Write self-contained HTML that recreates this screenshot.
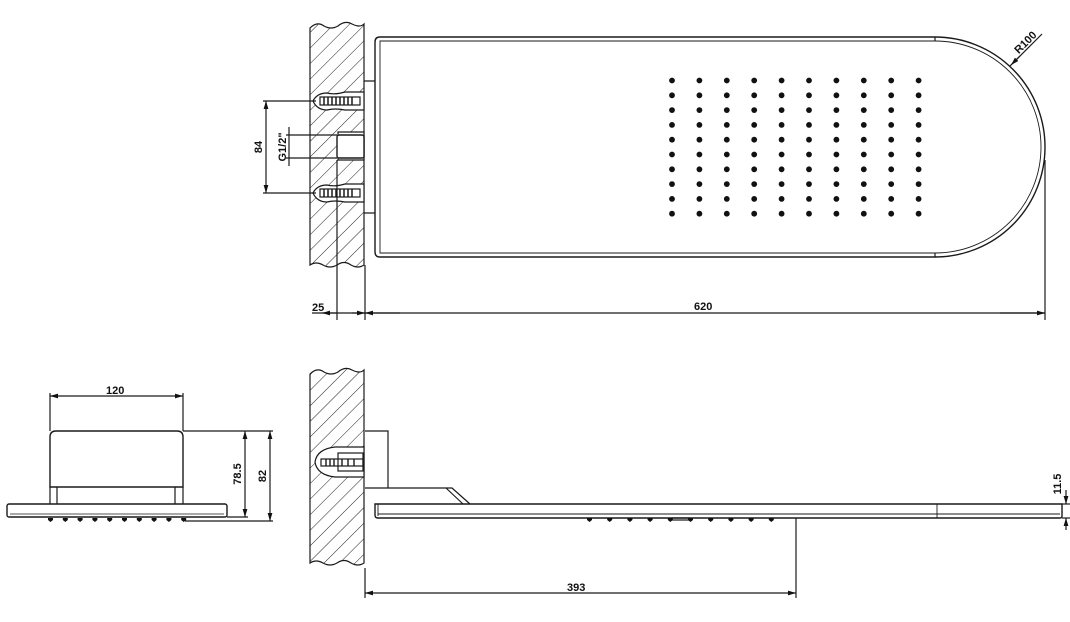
<!DOCTYPE html>
<html><head><meta charset="utf-8"><style>
html,body{margin:0;padding:0;background:#fff;}
svg{display:block}
text{font-family:"Liberation Sans",sans-serif;font-weight:bold;font-size:11px;fill:#111}
</style></head><body>
<svg width="1070" height="622" viewBox="0 0 1070 622" xmlns="http://www.w3.org/2000/svg">
<defs>
<pattern id="h" width="11" height="11" patternUnits="userSpaceOnUse" patternTransform="rotate(45)">
<line x1="0" y1="0" x2="0" y2="11" stroke="#222" stroke-width="1"/>
</pattern>
<marker id="a" viewBox="0 0 10 6" refX="10" refY="3" markerWidth="8" markerHeight="5" orient="auto-start-reverse" markerUnits="userSpaceOnUse">
<path d="M0,0 L10,3 L0,6 Z" fill="#111"/></marker>
</defs>
<g stroke="#1a1a1a" stroke-width="1.2" fill="none">
<!-- TOP VIEW wall -->
<path d="M310,28 q7,-7 14,-2 q7,4 14,0 q7,-6 14,-2 q8,4 12,0 L364,265 q-6,4 -13,0 q-7,-5 -14,0 q-7,4 -14,0 q-7,-4 -13,0 Z" fill="url(#h)"/>
<path d="M313,101 q4,-8 14,-8 q8,2 18,-1 L364,92 L364,110 L345,110 q-10,-2 -18,0 q-10,0 -14,-9Z" fill="#fff"/>
<rect x="320" y="97" width="40" height="8" fill="#fff"/>
<path d="M324,97v8M328,97v8M332,97v8M336,97v8M340,97v8M344,97v8M348,97v8M352,97v8" stroke-width="1.5"/>
<path d="M313,193 q4,-8 14,-8 q8,2 18,-1 L364,184 L364,202 L345,202 q-10,-2 -18,0 q-10,0 -14,-9Z" fill="#fff"/>
<rect x="320" y="189" width="40" height="8" fill="#fff"/>
<path d="M324,189v8M328,189v8M332,189v8M336,189v8M340,189v8M344,189v8M348,189v8M352,189v8" stroke-width="1.5"/>
<path d="M338,132 L364,132 L364,160 L338,160 Z" fill="#fff"/>
<rect x="337" y="135" width="27" height="23" rx="2" fill="#fff" stroke-width="1.4"/>
<path d="M364,81 H375 M364,213 H375"/>
<path d="M935,37 H380 q-5,0 -5,5 V252 q0,5 5,5 H935 A110,110 0 0 0 935,37 Z" stroke-width="1.4"/>
<path d="M935,41 H380 V253 H935 A106,106 0 0 0 935,41" stroke-width="0.9"/>
<line x1="935" y1="37" x2="935" y2="41"/><line x1="935" y1="253" x2="935" y2="257"/>
<!-- dims top -->
<line x1="337" y1="160" x2="337" y2="320"/>
<line x1="365" y1="265" x2="365" y2="320"/>
<line x1="1045" y1="160" x2="1045" y2="320"/>
<line x1="312" y1="313" x2="1045" y2="313"/>
<line x1="337" y1="313" x2="322" y2="313" marker-end="url(#a)"/>
<line x1="365" y1="313" x2="352" y2="313" marker-start="url(#a)"/>
<line x1="400" y1="313" x2="365" y2="313" marker-end="url(#a)"/>
<line x1="1000" y1="313" x2="1045" y2="313" marker-end="url(#a)"/>
<line x1="263" y1="101" x2="316" y2="101"/>
<line x1="263" y1="193" x2="316" y2="193"/>
<line x1="266" y1="101" x2="266" y2="193" marker-start="url(#a)" marker-end="url(#a)"/>
<line x1="286" y1="135" x2="337" y2="135"/>
<line x1="286" y1="158" x2="337" y2="158"/>
<line x1="289" y1="127" x2="289" y2="166"/>
<line x1="1010" y1="66" x2="1042" y2="34"/>
<line x1="1020" y1="56" x2="1011" y2="65" marker-end="url(#a)"/>

<!-- SIDE VIEW left -->
<path d="M50,487 V437 q0,-6 6,-6 H177 q6,0 6,6 V487 Z" stroke-width="1.4"/>
<path d="M50,487 V504 M57,487 V504 M175,487 V504 M183,487 V504"/>
<rect x="7" y="504" width="220" height="13" rx="2" stroke-width="1.4"/>
<line x1="10" y1="514" x2="224" y2="514" stroke-width="0.8"/>
<line x1="50" y1="393" x2="50" y2="431"/><line x1="183" y1="393" x2="183" y2="431"/>
<line x1="50" y1="396" x2="183" y2="396" marker-start="url(#a)" marker-end="url(#a)"/>
<line x1="183" y1="431" x2="273" y2="431"/>
<line x1="227" y1="517" x2="248" y2="517"/>
<line x1="185" y1="521" x2="273" y2="521"/>
<line x1="245" y1="431" x2="245" y2="517" marker-start="url(#a)" marker-end="url(#a)"/>
<line x1="270" y1="431" x2="270" y2="521" marker-start="url(#a)" marker-end="url(#a)"/>

<!-- SIDE VIEW right -->
<path d="M310,374 q7,-7 14,-2 q7,4 14,0 q7,-6 14,-2 q8,4 12,0 L364,563 q-6,4 -13,0 q-7,-5 -14,0 q-7,4 -14,0 q-7,-4 -13,0 Z" fill="url(#h)"/>
<path d="M364,447 L335,447 q-18,2 -20,15 q2,13 20,15 L364,477 Z" fill="#fff"/>
<rect x="321" y="459" width="42" height="7" fill="#fff"/>
<rect x="338" y="453" width="25" height="18" fill="none"/>
<path d="M326,459v7M330,459v7M334,459v7M342,459v7M348,459v7M354,459v7" stroke-width="1.4"/>
<path d="M365,431 H388 V488 M365,488 H452 L470,504 M446,488 L463,504"/>
<path d="M375,504 H1062 V516 q0,2 -2,2 H378 q-3,0 -3,-3 Z" stroke-width="1.4"/>
<path d="M378,504 V516 M378,514 H1060 M937,504 V518" stroke-width="0.9"/>
<line x1="365" y1="568" x2="365" y2="598"/>
<line x1="796" y1="518" x2="796" y2="598"/>
<line x1="365" y1="593" x2="796" y2="593" marker-start="url(#a)" marker-end="url(#a)"/>
<line x1="1062" y1="504" x2="1070" y2="504"/><line x1="1062" y1="518" x2="1070" y2="518"/>
<line x1="1066" y1="490" x2="1066" y2="504" marker-end="url(#a)"/>
<line x1="1066" y1="530" x2="1066" y2="518" marker-end="url(#a)"/>
<rect x="672" y="518" width="18" height="2"/>
</g>
<g fill="#111">
<g id="col">
<circle cx="672" cy="80.5" r="2.9"/><circle cx="672" cy="95.3" r="2.9"/><circle cx="672" cy="110.1" r="2.9"/><circle cx="672" cy="124.9" r="2.9"/><circle cx="672" cy="139.7" r="2.9"/><circle cx="672" cy="154.5" r="2.9"/><circle cx="672" cy="169.3" r="2.9"/><circle cx="672" cy="184.1" r="2.9"/><circle cx="672" cy="198.9" r="2.9"/><circle cx="672" cy="213.7" r="2.9"/>
</g>
<use href="#col" x="27.4"/><use href="#col" x="54.8"/><use href="#col" x="82.2"/><use href="#col" x="109.6"/><use href="#col" x="137"/><use href="#col" x="164.4"/><use href="#col" x="191.8"/><use href="#col" x="219.2"/><use href="#col" x="246.6"/>
<g id="nz"><path d="M48,518 h5 v2 l-2.5,2 l-2.5,-2z"/></g>
<use href="#nz" x="14.8"/><use href="#nz" x="29.6"/><use href="#nz" x="44.4"/><use href="#nz" x="59.2"/><use href="#nz" x="74"/><use href="#nz" x="88.8"/><use href="#nz" x="103.6"/><use href="#nz" x="118.4"/><use href="#nz" x="133.2"/>
<g id="nz2"><path d="M587,518 h5 v2 l-2.5,2 l-2.5,-2z"/></g>
<use href="#nz2" x="20.2"/><use href="#nz2" x="40.4"/><use href="#nz2" x="60.6"/><use href="#nz2" x="80.8"/><use href="#nz2" x="101"/><use href="#nz2" x="121.2"/><use href="#nz2" x="141.4"/><use href="#nz2" x="161.6"/><use href="#nz2" x="181.8"/>
</g>
<text x="312" y="311">25</text>
<text x="694" y="310">620</text>
<text x="106" y="394">120</text>
<text x="567" y="591">393</text>
<text transform="translate(262,147) rotate(-90)" text-anchor="middle">84</text>
<text transform="translate(286,147) rotate(-90)" text-anchor="middle" font-size="10">G1/2"</text>
<text transform="translate(241,474) rotate(-90)" text-anchor="middle">78.5</text>
<text transform="translate(266,476) rotate(-90)" text-anchor="middle">82</text>
<text transform="translate(1061,484) rotate(-90)" text-anchor="middle" font-size="10">11.5</text>
<text transform="translate(1028,45) rotate(-45)" text-anchor="middle" font-size="10">R100</text>
</svg>
</body></html>
